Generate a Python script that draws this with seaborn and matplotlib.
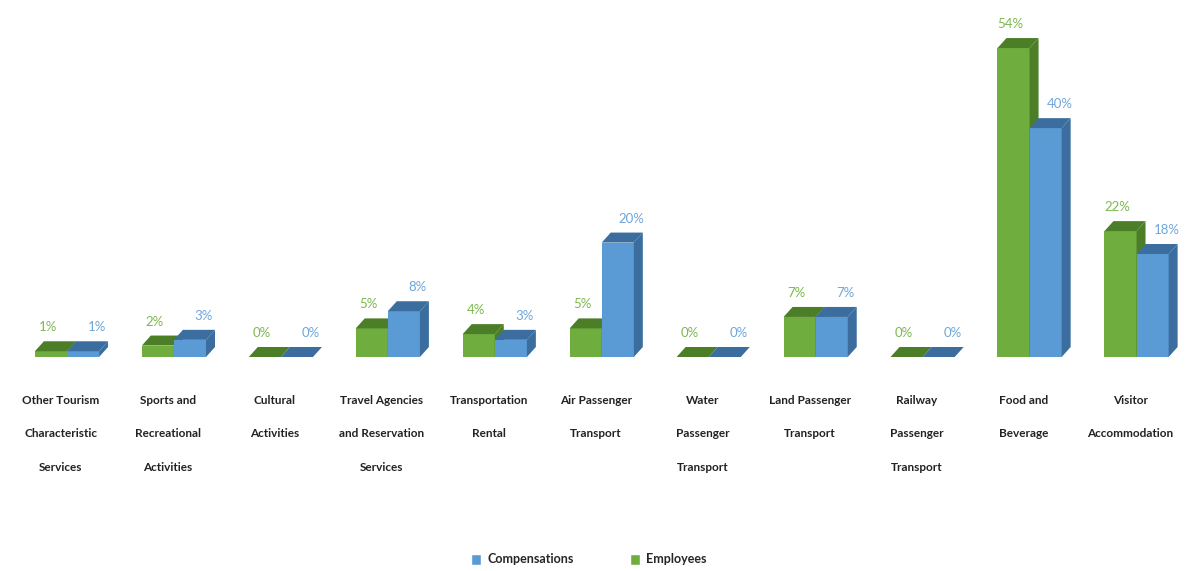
import numpy as np
import pandas as pd
import matplotlib
matplotlib.use("Agg")
import matplotlib.pyplot as plt
from matplotlib.patches import Polygon, Patch
from matplotlib.transforms import IdentityTransform, ScaledTranslation
import seaborn as sns

categories = [
    "Other Tourism\nCharacteristic\nServices",
    "Sports and\nRecreational\nActivities",
    "Cultural\nActivities",
    "Travel Agencies\nand Reservation\nServices",
    "Transportation\nRental",
    "Air Passenger\nTransport",
    "Water\nPassenger\nTransport",
    "Land Passenger\nTransport",
    "Railway\nPassenger\nTransport",
    "Food and\nBeverage",
    "Visitor\nAccommodation",
]
employees = [1, 2, 0, 5, 4, 5, 0, 7, 0, 54, 22]
compensations = [1, 3, 0, 8, 3, 20, 0, 7, 0, 40, 18]
series = ["Employees", "Compensations"]

df = pd.DataFrame({
    "category": categories * 2,
    "value": employees + compensations,
    "series": [series[0]] * len(categories) + [series[1]] * len(categories),
})

front = {"Employees": "#6FAD3F", "Compensations": "#5B9BD5"}
shade = {"Employees": "#4C7E28", "Compensations": "#3B6E9E"}
label_col = {"Employees": "#7DB84E", "Compensations": "#6FA6DA"}

sns.set_theme(style="white")
plt.rcParams["font.family"] = ["Lato", "DejaVu Sans"]

fig = plt.figure(figsize=(11.9, 5.71), dpi=100)
ax = fig.add_axes([0, 214 / 571, 1, 357 / 571])

sns.barplot(data=df, x="category", y="value", hue="series",
            hue_order=series, palette=front, width=0.6, gap=0,
            saturation=1, linewidth=0, legend=False, ax=ax)

ax.set_xlim(-0.626, 10.5)
ax.set_ylim(0, 62.4)
for s in ax.spines.values():
    s.set_visible(False)
ax.set_yticks([])
ax.set_xlabel("")
ax.set_ylabel("")
ax.tick_params(axis="x", length=0, pad=27)
shift = ScaledTranslation(-6 / 100, 0, fig.dpi_scale_trans)
for lab in ax.get_xticklabels():
    lab.set_fontsize(8.5)
    lab.set_fontweight("bold")
    lab.set_linespacing(3.55)
    lab.set_color("#222222")
    lab.set_transform(lab.get_transform() + shift)

fig.canvas.draw()

# extruded side and top faces for each bar, stacked so the right-hand
# bar of a pair sits in front of its neighbour's side face
dx, dy = 9, 10
for k, (cont, name) in enumerate(zip(ax.containers, series)):
    base_z = 2 + 2 * k
    for rect, v in zip(cont.patches, cont.datavalues):
        rect.set_zorder(base_z)
        x0, y0 = rect.get_x(), rect.get_y()
        x1, y1 = x0 + rect.get_width(), y0 + rect.get_height()
        (px0, py0), (px1, py1) = ax.transData.transform([(x0, y0), (x1, y1)])
        top = [(px0, py1), (px1, py1), (px1 + dx, py1 + dy), (px0 + dx, py1 + dy)]
        side = [(px1, py0), (px1 + dx, py0 + dy), (px1 + dx, py1 + dy), (px1, py1)]
        for pts in (top, side):
            ax.add_patch(Polygon(pts, closed=True, transform=IdentityTransform(),
                                 facecolor=shade[name], edgecolor="none",
                                 clip_on=False, zorder=base_z + 0.5))
        # value label
        cx = (px0 + px1) / 2 + (-3 if name == "Employees" else 14)
        fig.text(cx / fig.dpi / fig.get_figwidth(),
                 (py1 + 24) / fig.dpi / fig.get_figheight(),
                 f"{v:.0f}%", ha="center", va="center", fontsize=9.5,
                 color=label_col[name])

handles = [Patch(facecolor=front["Compensations"], label="Compensations"),
           Patch(facecolor=front["Employees"], label="Employees")]
fig.legend(handles=handles, loc="lower center", bbox_to_anchor=(0.495, -0.01),
           ncol=2, frameon=False, handlelength=0.8,
           handleheight=1.0, handletextpad=0.5, columnspacing=4.5,
           prop={"weight": "bold", "size": 9})

fig.savefig("out.png", dpi=100)
